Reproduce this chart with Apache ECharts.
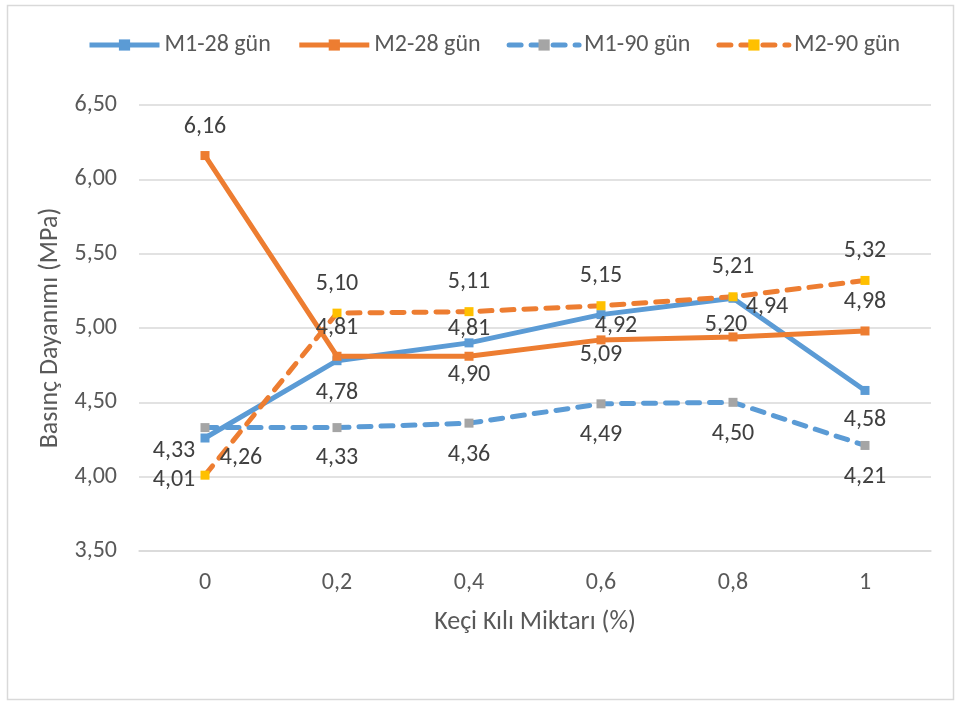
<!DOCTYPE html>
<html><head><meta charset="utf-8">
<script src="https://cdn.jsdelivr.net/npm/echarts@6/dist/echarts.min.js"></script>
<style>html,body{margin:0;padding:0;background:#fff}#c{width:956px;height:701px}</style>
</head><body><div id="c"></div>
<script>
const categories = ['0', '0,2', '0,4', '0,6', '0,8', '1'];
const m1_28 = [4.26, 4.78, 4.90, 5.09, 5.20, 4.58];
const m2_28 = [6.16, 4.81, 4.81, 4.92, 4.94, 4.98];
const m1_90 = [4.33, 4.33, 4.36, 4.49, 4.50, 4.21];
const m2_90 = [4.01, 5.10, 5.11, 5.15, 5.21, 5.32];
const seriesNames = ['M1-28 gün', 'M2-28 gün', 'M1-90 gün', 'M2-90 gün'];
const yTicks = [3.5, 4.0, 4.5, 5.0, 5.5, 6.0, 6.5];

const FONT = 'Carlito, Calibri, Lato, sans-serif';
const BLUE = '#5B9BD5', ORANGE = '#ED7D31', GRAY = '#A5A5A5', YELLOW = '#FFC000';
const fmt = v => v.toFixed(2).replace('.', ',');

// label offsets relative to each point (style, not data)
const offsets = [
  [[36, 20], [0, 32], [0, 32], [0, 40], [-7, 27], [0, 30]],
  [[0, -29], [0, -28], [0, -27], [15, -14], [34, -30], [0, -29]],
  [[-31, 23], [0, 30], [0, 32], [0, 31], [0, 32], [0, 32]],
  [[-31, 5], [0, -29], [0, -30], [0, -30], [0, -30], [0, -29]]
];

const labelBase = {
  show: true, position: 'inside', color: '#404040', fontSize: 24, fontFamily: FONT,
  formatter: p => fmt(p.value)
};

function mkSeries(idx, vals, lineColor, markerColor, dashed) {
  return {
    name: seriesNames[idx], type: 'line', data: vals,
    symbol: 'rect', symbolSize: 9, showSymbol: true,
    lineStyle: { color: lineColor, width: 5, type: dashed ? [12, 10] : 'solid', cap: dashed ? 'round' : 'butt', join: 'round' },
    itemStyle: { color: markerColor },
    label: labelBase,
    labelLayout: p => ({ dx: offsets[idx][p.dataIndex][0], dy: offsets[idx][p.dataIndex][1], hideOverlap: false }),
    emphasis: { disabled: true },
    animation: false
  };
}

const chart = echarts.init(document.getElementById('c'), null, { renderer: 'canvas' });
chart.setOption({
  backgroundColor: '#fff',
  animation: false,
  textStyle: { fontFamily: FONT },
  graphic: [{
    type: 'rect', left: 5, top: 3, shape: { width: 946, height: 694 },
    style: { fill: 'none', stroke: '#d9d9d9', lineWidth: 1.5 }, z: -1
  }],
  legend: {
    top: 28, left: 82, itemWidth: 70, itemHeight: 14, itemGap: 26,
    lineStyle: { width: 5 },
    textStyle: { color: '#595959', fontSize: 24, fontFamily: FONT },
    data: seriesNames
  },
  grid: { left: 139, right: 25, top: 105, bottom: 150, containLabel: false },
  xAxis: {
    type: 'category', data: categories, boundaryGap: true,
    name: 'Keçi Kılı Miktarı (%)', nameLocation: 'middle', nameGap: 58,
    nameTextStyle: { color: '#595959', fontSize: 26, fontFamily: FONT },
    axisLine: { show: true, lineStyle: { color: '#d9d9d9', width: 1.5 } },
    axisTick: { show: false },
    axisLabel: { color: '#595959', fontSize: 24, fontFamily: FONT, margin: 20 }
  },
  yAxis: {
    type: 'value', min: yTicks[0], max: yTicks[yTicks.length - 1], interval: 0.5,
    name: 'Basınç Dayanımı (MPa)', nameLocation: 'middle', nameGap: 73, nameRotate: 90,
    nameTextStyle: { color: '#595959', fontSize: 26, fontFamily: FONT },
    axisLine: { show: false }, axisTick: { show: false },
    splitLine: { lineStyle: { color: '#d9d9d9', width: 1.5 } },
    axisLabel: { color: '#595959', fontSize: 24, fontFamily: FONT, margin: 22, formatter: v => fmt(v) }
  },
  series: [
    mkSeries(0, m1_28, BLUE, BLUE, false),
    mkSeries(1, m2_28, ORANGE, ORANGE, false),
    mkSeries(2, m1_90, BLUE, GRAY, true),
    mkSeries(3, m2_90, ORANGE, YELLOW, true)
  ]
});
</script>
</body></html>
